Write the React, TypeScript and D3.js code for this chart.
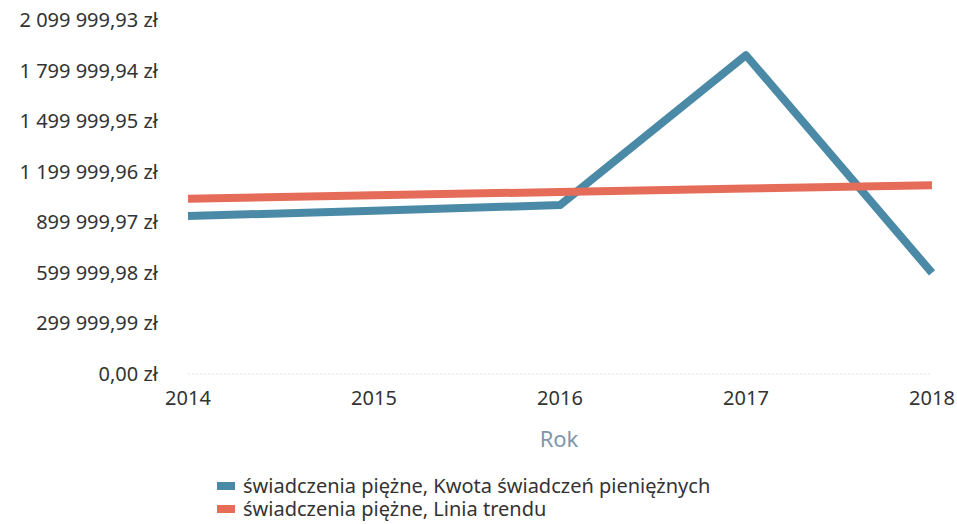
import React, { useEffect, useRef } from "react";
import * as d3 from "d3";

// data
const years = ["2014", "2015", "2016", "2017", "2018"];
const amountValues = [937000, 969000, 1002000, 1891000, 600000];
const trendValues = [1040000, 1060000, 1080000, 1100000, 1120000];
const yTickValues = [0, 299999.99, 599999.98, 899999.97, 1199999.96, 1499999.95, 1799999.94, 2099999.93];
const seriesNames = [
  "świadczenia piężne, Kwota świadczeń pieniężnych",
  "świadczenia piężne, Linia trendu",
];

const plLocale = d3.formatLocale({
  decimal: ",",
  thousands: " ",
  grouping: [3],
  currency: ["", " zł"],
});
const fmt = plLocale.format(",.2f");

export default function App() {
  const ref = useRef<SVGSVGElement>(null);

  useEffect(() => {
    const width = 957;
    const height = 524;
    const svg = d3.select(ref.current).attr("width", width).attr("height", height);
    svg.selectAll("*").remove();

    const font = "'Noto Sans', 'Open Sans', sans-serif";
    const colors = ["#4b8aa6", "#e56c58"];

    const xScale = d3.scalePoint<string>().domain(years).range([188, 932]);
    const yScale = d3.scaleLinear().domain([0, 2099999.93]).range([374, 20]);

    // faint baseline
    svg.append("line")
      .attr("x1", 188).attr("x2", 932)
      .attr("y1", yScale(0)).attr("y2", yScale(0))
      .attr("stroke", "#e4e4e4")
      .attr("stroke-width", 1)
      .attr("stroke-dasharray", "2,2");

    // y labels
    svg.append("g")
      .selectAll("text")
      .data(yTickValues)
      .join("text")
      .attr("x", 158)
      .attr("y", (d) => yScale(d))
      .attr("dy", "0.35em")
      .attr("text-anchor", "end")
      .attr("font-family", font)
      .attr("font-size", 20)
      .attr("fill", "#333")
      .text((d) => fmt(d) + " zł");

    // x labels
    svg.append("g")
      .selectAll("text")
      .data(years)
      .join("text")
      .attr("x", (d) => xScale(d)!)
      .attr("y", 398)
      .attr("dy", "0.35em")
      .attr("text-anchor", "middle")
      .attr("font-family", font)
      .attr("font-size", 20)
      .attr("fill", "#333")
      .text((d) => d);

    svg.append("text")
      .attr("x", 559)
      .attr("y", 439)
      .attr("dy", "0.35em")
      .attr("text-anchor", "middle")
      .attr("font-family", font)
      .attr("font-size", 22)
      .attr("fill", "#7e97ae")
      .text("Rok");

    const line = d3.line<number>()
      .x((_, i) => xScale(years[i])!)
      .y((d) => yScale(d));

    [amountValues, trendValues].forEach((vals, i) => {
      svg.append("path")
        .datum(vals)
        .attr("d", line)
        .attr("fill", "none")
        .attr("stroke", colors[i])
        .attr("stroke-width", 8)
        .attr("stroke-linejoin", "round");
    });

    // legend
    const legend = svg.append("g").attr("transform", "translate(217,486)");
    seriesNames.forEach((name, i) => {
      legend.append("rect")
        .attr("x", 0)
        .attr("y", i * 23 - 4)
        .attr("width", 18)
        .attr("height", 8)
        .attr("fill", colors[i]);
      legend.append("text")
        .attr("x", 26)
        .attr("y", i * 23)
        .attr("dy", "0.35em")
        .attr("font-family", font)
        .attr("font-size", 20)
        .attr("fill", "#333")
        .text(name);
    });
  }, []);

  return (
    <svg ref={ref} style={{ position: "absolute", left: 0, top: 0 }} />
  );
}
